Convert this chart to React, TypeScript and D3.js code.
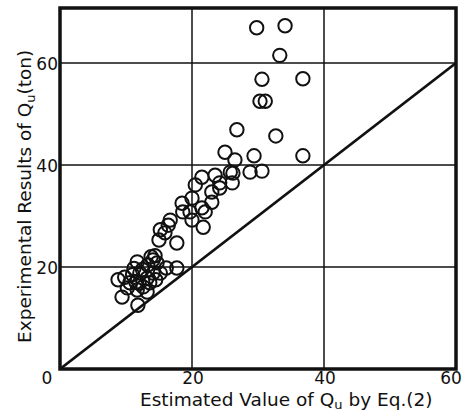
import * as d3 from 'd3'

// estimated Qu by Eq.(2) (ton)
const estimated = [
  29.8, 34.1, 33.3, 36.8, 30.6, 30.3, 31.1,
  26.8, 32.7, 36.8, 25.0, 26.5, 29.4, 28.8, 30.6, 26.2, 25.8,
  21.5, 23.5, 26.1, 24.2, 20.5, 24.2, 23.0, 20.0, 23.0, 18.5,
  21.5, 18.6, 19.7, 22.0, 20.0, 21.7, 16.7, 16.4, 15.2, 15.9,
  17.7, 15.0, 14.4,
  11.7, 17.7, 16.1, 14.1, 13.3, 8.8, 9.8, 10.6, 12.1, 13.2,
  14.1, 15.2, 13.6, 12.6, 11.7, 10.2, 9.4, 13.2, 11.8,
  11.0, 12.5, 14.5, 11.5, 12.0, 14.7, 13.8, 11.2,
]

// experimental Qu (ton)
const experimental = [
  66.9, 67.3, 61.5, 56.9, 56.8, 52.5, 52.5,
  46.9, 45.7, 41.8, 42.5, 41.0, 41.8, 38.6, 38.8, 38.4, 38.6,
  37.6, 38.0, 36.5, 36.5, 36.1, 35.5, 34.7, 33.5, 32.7, 32.5,
  31.6, 30.8, 30.8, 30.8, 29.2, 27.8, 29.2, 28.2, 27.3, 26.7,
  24.7, 25.3, 22.2,
  21.0, 19.8, 19.8, 21.4, 20.4, 17.5, 18.0, 16.9, 18.8, 17.8,
  18.8, 18.8, 16.9, 16.1, 15.5, 15.9, 14.1, 15.1, 12.5,
  18.5, 19.5, 17.5, 17.0, 16.8, 20.8, 22.0, 19.7,
]

const xTicks = [20, 40, 60]
const yTicks = [20, 40, 60]
const gridVals = [20, 40]

export default function App() {
  const width = 463
  const height = 415
  const left = 60
  const right = 456
  const top = 8
  const bottom = 369

  const x = d3.scaleLinear([0, 60], [left, right])
  const y = d3.scaleLinear([0, 60], [bottom, bottom - 306])
  const font = '"DejaVu Sans", sans-serif'

  const pts = estimated.map((d, i) => [d, experimental[i]] as [number, number])
  const diag = d3.line<number>((d) => x(d), (d) => y(d))([0, 60])

  return (
    <svg
      width={width}
      height={height}
      style={{ position: 'absolute', left: 0, top: 0, background: '#fff' }}
      fontFamily={font}
    >
      {/* grid */}
      <g stroke="#111" strokeWidth={1.5}>
        {gridVals.map((v) => (
          <line key={'vx' + v} x1={x(v)} x2={x(v)} y1={top} y2={bottom} />
        ))}
        {yTicks.map((v) => (
          <line key={'hy' + v} x1={left} x2={right} y1={y(v)} y2={y(v)} />
        ))}
      </g>
      {/* y = x */}
      <path d={diag ?? undefined} fill="none" stroke="#111" strokeWidth={2.8} />
      {/* points */}
      <g fill="none" stroke="#111" strokeWidth={2}>
        {pts.map((p, i) => (
          <circle key={i} cx={x(p[0])} cy={y(p[1])} r={6.7} />
        ))}
      </g>
      {/* frame */}
      <rect
        x={left}
        y={top}
        width={right - left}
        height={bottom - top}
        fill="none"
        stroke="#111"
        strokeWidth={3.5}
      />
      {/* tick labels */}
      <g fontSize={17} fill="#111">
        <text x={47} y={384} textAnchor="middle">0</text>
        {xTicks.map((v) => (
          <text
            key={'xt' + v}
            x={v === 60 ? 451 : x(v) + 1}
            y={384}
            textAnchor="middle"
          >
            {v}
          </text>
        ))}
        {yTicks.map((v) => (
          <text key={'yt' + v} x={58} y={y(v) + 7} textAnchor="end">
            {v}
          </text>
        ))}
      </g>
      {/* axis titles */}
      <text x={140} y={406} fontSize={18.5} fill="#111">
        Estimated Value of Q
        <tspan fontSize={13} dy={3}>u</tspan>
        <tspan dy={-3}> by Eq.(2)</tspan>
      </text>
      <text
        transform="translate(31,343) rotate(-90)"
        fontSize={18.5}
        fill="#111"
      >
        Experimental Results of Q
        <tspan fontSize={13} dy={4}>u</tspan>
        <tspan dy={-4}>(ton)</tspan>
      </text>
    </svg>
  )
}
